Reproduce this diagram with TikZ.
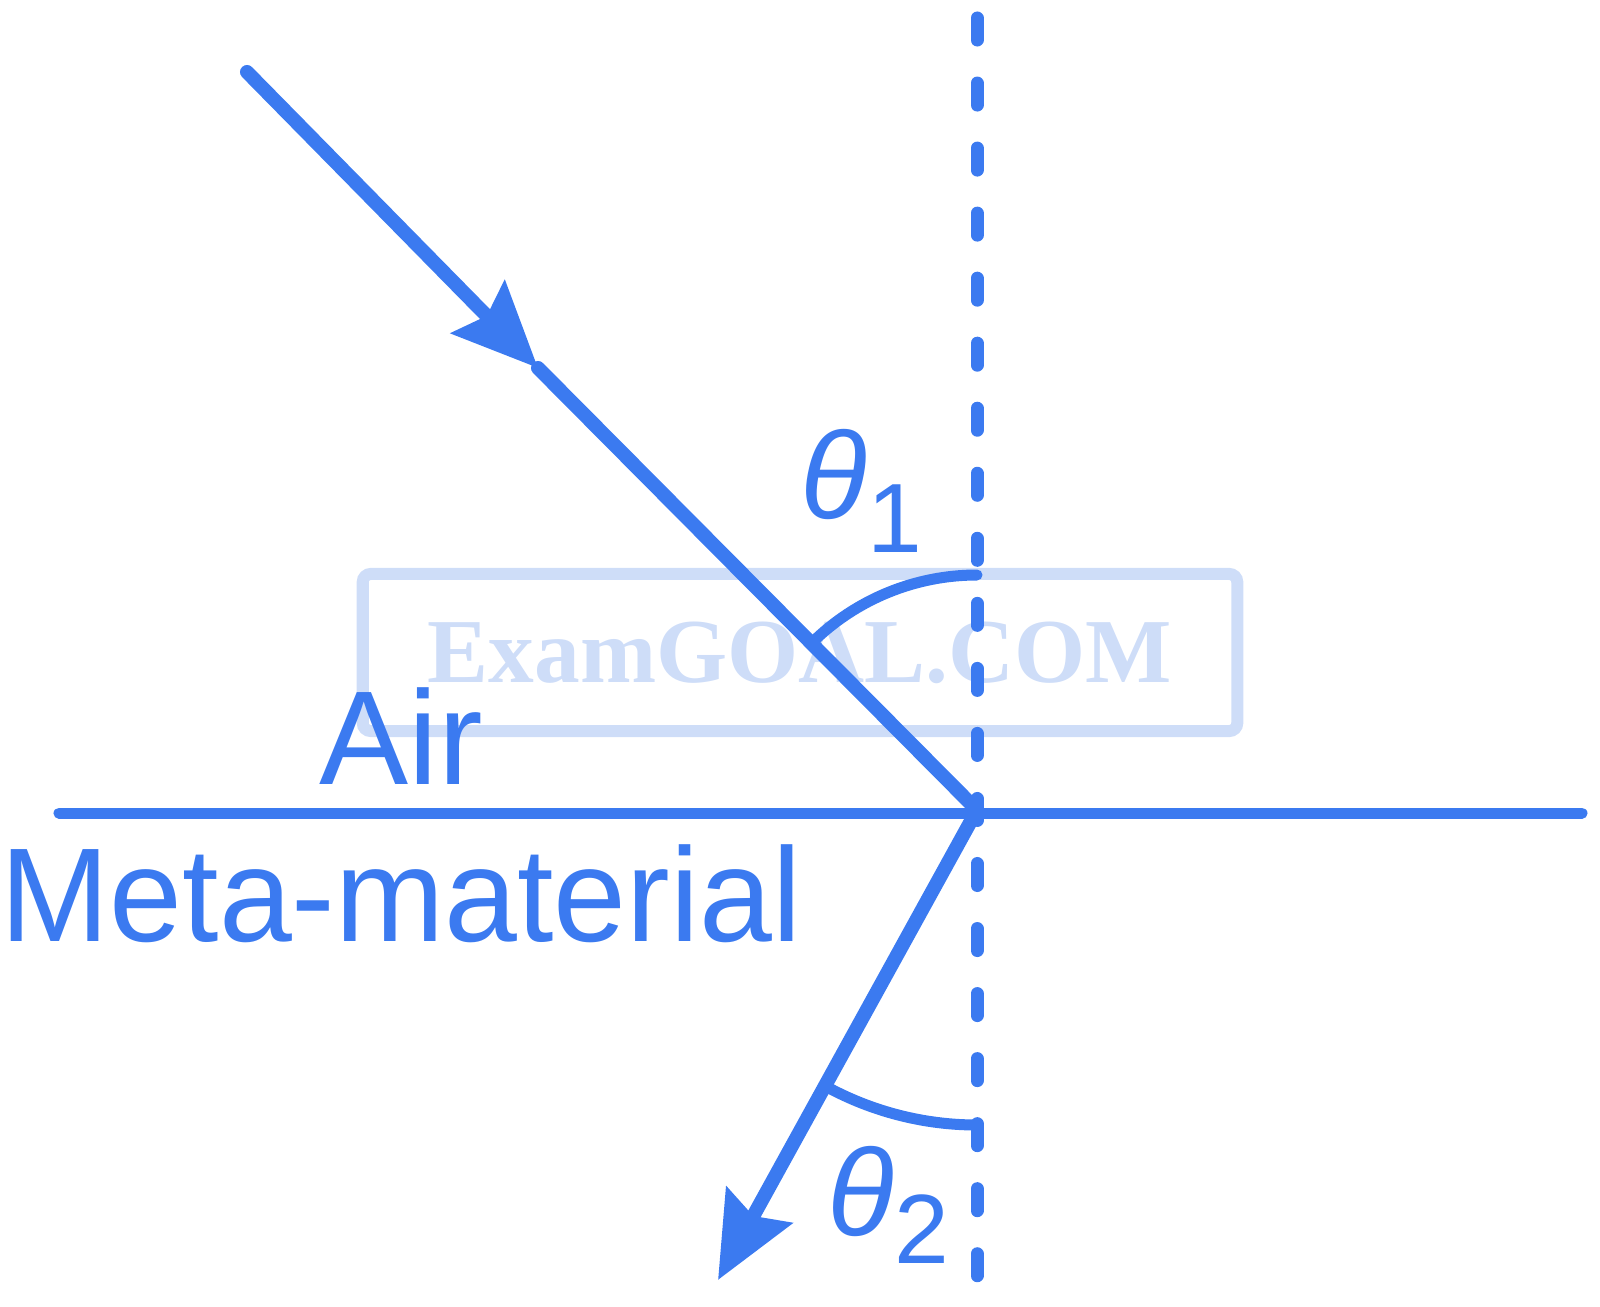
\documentclass[tikz,border=0pt]{standalone}
\usepackage{fontspec}
\setmainfont{Liberation Sans}
\newfontfamily\wmfont{Liberation Serif}
\usetikzlibrary{arrows.meta}
\definecolor{rayblue}{RGB}{59,122,240}
\definecolor{wmblue}{RGB}{206,221,248}
\tikzset{
        ray/.style={draw=rayblue, line width=1.4mm, line cap=round},
        raytip/.style={-{Stealth[length=8.5mm, width=7.4mm, inset=1.2mm]}},
        boundary/.style={draw=rayblue, line width=1.1mm, line cap=round},
        normalline/.style={draw=rayblue, line width=1.3mm, line cap=round, dash pattern=on 2.2mm off 4.3mm},
        anglearc/.style={draw=rayblue, line width=1.1mm, line cap=round},
        medium/.style={text=rayblue, inner sep=0pt, anchor=base west, font=\fontsize{38}{42}\selectfont},
        anglename/.style={text=rayblue, inner sep=0pt, anchor=base west, font=\fontsize{35}{40}\selectfont},
        watermark/.style={draw=wmblue, line width=1.2mm, rounded corners=0.8mm, text=wmblue,
          minimum width=8.74cm, minimum height=1.57cm, inner sep=0pt, font=\wmfont\bfseries\fontsize{26}{30}\selectfont}
          }
\begin{document}
\begin{tikzpicture}[x=0.01cm, y=-0.01cm]
        \useasboundingbox (0,0) rectangle (1600,1306);
        \node[watermark] (wm) at (800,652.5) {ExamGOAL.COM};
        \coordinate (src) at (247,72);
        \coordinate (mid) at (538,368);
        \coordinate (O) at (977,810);
        \coordinate (dst) at (718,1280);
        \coordinate (top) at (977,18);
        \coordinate (bot) at (977,1276);
        \coordinate (left) at (59,813);
        \coordinate (right) at (1582,813);
        \draw[normalline] (top) -- (bot);
        \draw[boundary] (left) -- (right);
        \draw[ray, raytip] (src) -- (mid);
        \draw[ray] (mid) -- (O);
        \draw[ray, raytip] (O) -- (dst);
        % angle marks
        \draw[anglearc] (977,575) arc[start angle=270, end angle=225.3, radius=235];
        \draw[anglearc] (977,1125) arc[start angle=90, end angle=118.8, radius=315];
        \node[medium] (air) at (319,784) {Air};
        \node[medium] (meta) at (0,941) {\scalebox{0.98}[1]{Meta-material}};
        \node[anglename] (th1) at (800,518) {\itshape θ\raisebox{-3.4mm}{\fontsize{28}{30}\selectfont\upshape 1}};
        \node[anglename] (th2) at (827,1235) {\itshape θ\raisebox{-2.8mm}{\fontsize{28}{30}\selectfont\upshape 2}};
      \end{tikzpicture}
\end{document}
